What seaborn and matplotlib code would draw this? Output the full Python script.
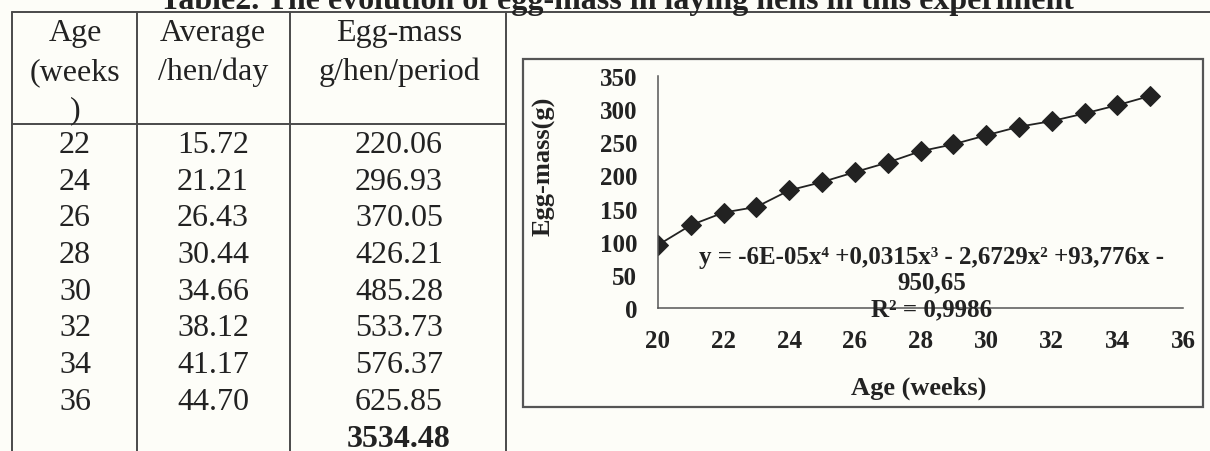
import numpy as np
import pandas as pd
import seaborn as sns
import matplotlib.pyplot as plt
from matplotlib.patches import Rectangle

# table values (left part of the picture)
table_age = ["22", "24", "26", "28", "30", "32", "34", "36"]
table_avg = ["15.72", "21.21", "26.43", "30.44", "34.66", "38.12", "41.17", "44.70"]
table_mass = ["220.06", "296.93", "370.05", "426.21", "485.28", "533.73", "576.37", "625.85"]
table_total = "3534.48"

# chart values
weeks = [20, 21, 22, 23, 24, 25, 26, 27, 28, 29, 30, 31, 32, 33, 34, 35]
egg_mass = [95, 125, 144, 152.5, 177.5, 190, 205, 219.5, 236.5, 247, 260.5, 273.5, 282, 293.5, 306, 320]
x_ticks = [20, 22, 24, 26, 28, 30, 32, 34, 36]
y_ticks = [0, 50, 100, 150, 200, 250, 300, 350]

title = "Table2. The evolution of egg-mass in laying hens in this experiment"
eq_lines = ["y = -6E-05x\u2074 +0,0315x\u00b3 - 2,6729x\u00b2 +93,776x -", "950,65", "R\u00b2 = 0,9986"]

sns.set_theme(style="white")
serif = ["Liberation Serif", "DejaVu Serif"]
plt.rcParams["font.family"] = serif

W, H = 1210, 452
ink = "#222222"
line_col = "#4a4a4a"

fig = plt.figure(figsize=(W / 100, H / 100), dpi=100)
fig.patch.set_facecolor("#fdfdf8")

# background axes in pixel units for the table and the chart frame
bg = fig.add_axes([0, 0, 1, 1], zorder=0)
bg.set_xlim(0, W)
bg.set_ylim(H, 0)
bg.axis("off")

bg.text(617, 9, title, ha="center", va="baseline", fontsize=23, fontweight="bold", color=ink)

# table grid
bg.plot([12, W], [13, 13], color=line_col, lw=1.4)
bg.plot([12, 506], [125, 125], color=line_col, lw=1.4)
for xv in [12, 137, 290, 506]:
    bg.plot([xv, xv], [13, H], color=line_col, lw=1.4)

col_x = [75, 213, 399]
headers = [["Age", "(weeks", ")"], ["Average", "/hen/day"], ["Egg-mass", "g/hen/period"]]
for cx, lines in zip(col_x, headers):
    for i, t in enumerate(lines):
        bg.text(cx, 34 + 38.5 * i, t, ha="center", va="center", fontsize=23, color=ink)

row_y = [146, 182.5, 219, 255.5, 292.5, 329, 365.5, 402.5]
for ry, a, b, c in zip(row_y, table_age, table_avg, table_mass):
    bg.text(col_x[0], ry, a, ha="center", va="center", fontsize=23, color=ink)
    bg.text(col_x[1], ry, b, ha="center", va="center", fontsize=23, color=ink)
    bg.text(col_x[2], ry, c, ha="center", va="center", fontsize=23, color=ink)
bg.text(col_x[2], 440, table_total, ha="center", va="center", fontsize=23, fontweight="bold", color=ink)

# chart frame
bg.add_patch(Rectangle((523, 60), 680, 348, fill=False, edgecolor="#555555", lw=1.6))

# chart
ax = fig.add_axes([658 / W, 1 - 309 / H, (1183 - 658) / W, (309 - 77) / H], zorder=1)
ax.patch.set_alpha(0)

df = pd.DataFrame({"week": weeks, "mass": egg_mass})
sns.lineplot(data=df, x="week", y="mass", ax=ax, color=ink, linewidth=1.3,
             marker="D", markersize=10, markeredgecolor=ink, markerfacecolor=ink)

ax.set_xlim(20, 36)
ax.set_ylim(0, 350)
ax.set_xticks(x_ticks)
ax.set_yticks(y_ticks)
sns.despine(ax=ax)
for s in ["left", "bottom"]:
    ax.spines[s].set_color("#555555")
    ax.spines[s].set_linewidth(1.1)
ax.tick_params(axis="both", direction="out", length=5, width=1, color="#555555",
               labelsize=18, labelcolor=ink, pad=10)
for lab in ax.get_xticklabels() + ax.get_yticklabels():
    lab.set_fontweight("bold")

ax.set_xlabel("Age (weeks)", fontsize=19, fontweight="bold", color=ink)
ax.set_ylabel("Egg-mass(g)", fontsize=19, fontweight="bold", color=ink)
ax.xaxis.set_label_coords(0.497, -0.293)
ax.yaxis.set_label_coords(-0.196, 0.616)

for t, yv in zip(eq_lines, [77, 39, -1]):
    ax.text(28.35, yv, t, ha="center", va="center", fontsize=18, fontweight="bold",
            color=ink, family=serif)

fig.savefig("out.png", dpi=100, facecolor=fig.get_facecolor())
